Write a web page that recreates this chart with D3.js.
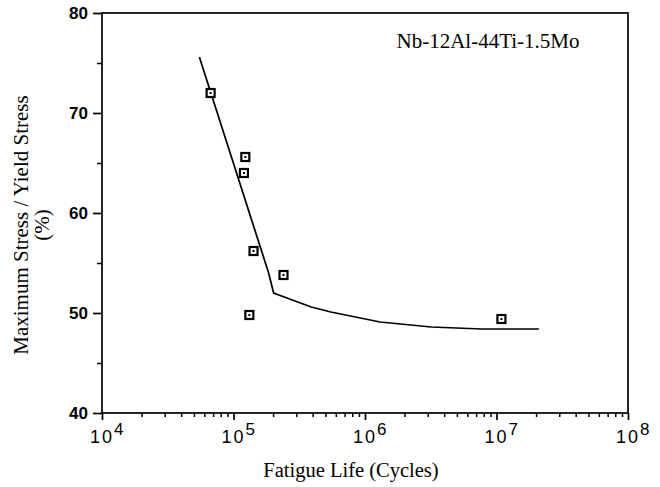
<!DOCTYPE html>
<html><head><meta charset="utf-8">
<script src="https://cdn.jsdelivr.net/npm/d3@7"></script>
<style>body{margin:0;background:#fff}svg{display:block}</style>
</head><body>
<script>
// Data
const pointsCycles = [6.7e4, 1.23e5, 1.2e5, 1.42e5, 2.4e5, 1.32e5, 1.09e7];
const pointsStress = [72.0, 65.6, 64.0, 56.2, 53.8, 49.8, 49.4];
const curveCycles = [5.5e4, 1.85e5, 2.02e5, 3.9e5, 5.5e5, 1.3e6, 3.2e6, 7.7e6, 2.1e7];
const curveStress = [75.6, 54.0, 52.0, 50.6, 50.1, 49.1, 48.6, 48.4, 48.4];
const xMajorTicks = [1e4, 1e5, 1e6, 1e7, 1e8];
const xTickExponents = ["4", "5", "6", "7", "8"];
const yMajorTicks = [40, 50, 60, 70, 80];
const yMinorTicks = [45, 55, 65, 75];
const annotation = "Nb-12Al-44Ti-1.5Mo";
const xTitle = "Fatigue Life (Cycles)";
const yTitle1 = "Maximum Stress / Yield Stress";
const yTitle2 = "(%)";

const W = 660, H = 487;
const L = 102, R = 628, T = 13, B = 413;
const serif = "Liberation Serif, Times New Roman, serif";
const sans = "Liberation Sans, Arial, sans-serif";
const svg = d3.select("body").append("svg").attr("width", W).attr("height", H);
const x = d3.scaleLog().domain([1e4, 1e8]).range([L, R]);
const y = d3.scaleLinear().domain([40, 80]).range([B, T]);

// minor x ticks
const xMinor = [];
for (let d = 4; d < 8; d++) for (let m = 2; m <= 9; m++) xMinor.push(m * Math.pow(10, d));

// frame
svg.append("rect").attr("x", L).attr("y", T).attr("width", R - L).attr("height", B - T)
  .attr("fill", "none").attr("stroke", "#000").attr("stroke-width", 1.7);

// x axis
const xAxis = d3.axisBottom(x).tickValues(xMajorTicks).tickSize(7).tickFormat("");
const gx = svg.append("g").attr("transform", `translate(0,${B})`).call(xAxis);
gx.select(".domain").remove();
gx.selectAll(".tick line").attr("stroke-width", 1.7);
const xAxisMinor = d3.axisBottom(x).tickValues(xMinor).tickSize(4).tickFormat("");
const gxm = svg.append("g").attr("transform", `translate(0,${B})`).call(xAxisMinor);
gxm.select(".domain").remove();
gxm.selectAll(".tick line").attr("stroke-width", 1.5);

// x tick labels with superscripts
xMajorTicks.forEach((v, i) => {
  svg.append("text").attr("x", x(v)).attr("y", B + 30)
    .attr("text-anchor", "middle").attr("font-family", sans)
    .attr("font-size", 18).attr("letter-spacing", 2).attr("fill", "#000").text("10");
  svg.append("text").attr("x", x(v) + 12).attr("y", B + 22)
    .attr("font-family", sans).attr("font-size", 17).attr("fill", "#000").text(xTickExponents[i]);
});

// y axis
const yAxis = d3.axisLeft(y).tickValues(yMajorTicks).tickSize(9).tickPadding(5).tickFormat(d3.format("d"));
const gy = svg.append("g").attr("transform", `translate(${L},0)`).call(yAxis);
gy.select(".domain").remove();
gy.selectAll(".tick line").attr("stroke-width", 1.7);
gy.selectAll(".tick text").attr("font-family", sans).attr("font-weight", "bold")
  .attr("font-size", 17).attr("fill", "#000");
const yAxisMinor = d3.axisLeft(y).tickValues(yMinorTicks).tickSize(5).tickFormat("");
const gym = svg.append("g").attr("transform", `translate(${L},0)`).call(yAxisMinor);
gym.select(".domain").remove();
gym.selectAll(".tick line").attr("stroke-width", 1.5);

// curve
const curveData = curveCycles.map((c, i) => [c, curveStress[i]]);
svg.append("path").datum(curveData)
  .attr("d", d3.line().x(d => x(d[0])).y(d => y(d[1])))
  .attr("fill", "none").attr("stroke", "#000").attr("stroke-width", 1.7);

// points
const pts = pointsCycles.map((c, i) => [c, pointsStress[i]]);
const g = svg.append("g");
g.selectAll("rect.m").data(pts).enter().append("rect")
  .attr("x", d => x(d[0]) - 4).attr("y", d => y(d[1]) - 4)
  .attr("width", 8).attr("height", 8)
  .attr("fill", "#fff").attr("stroke", "#000").attr("stroke-width", 2.2);
g.selectAll("rect.c").data(pts).enter().append("rect")
  .attr("x", d => x(d[0]) - 1).attr("y", d => y(d[1]) - 1)
  .attr("width", 2).attr("height", 2).attr("fill", "#000");

// annotation
svg.append("text").attr("x", 488).attr("y", 48).attr("text-anchor", "middle")
  .attr("font-family", serif).attr("font-size", 21)
  .attr("fill", "#000").text(annotation);

// titles
svg.append("text").attr("x", 351).attr("y", 477).attr("text-anchor", "middle")
  .attr("font-family", serif).attr("font-size", 20.5)
  .attr("fill", "#000").text(xTitle);
svg.append("text").attr("transform", "translate(28,225) rotate(-90)").attr("text-anchor", "middle")
  .attr("font-family", serif).attr("font-size", 21)
  .attr("fill", "#000").text(yTitle1);
svg.append("text").attr("transform", "translate(49,225) rotate(-90)").attr("text-anchor", "middle")
  .attr("font-family", serif).attr("font-size", 21)
  .attr("fill", "#000").text(yTitle2);
</script>
</body></html>
